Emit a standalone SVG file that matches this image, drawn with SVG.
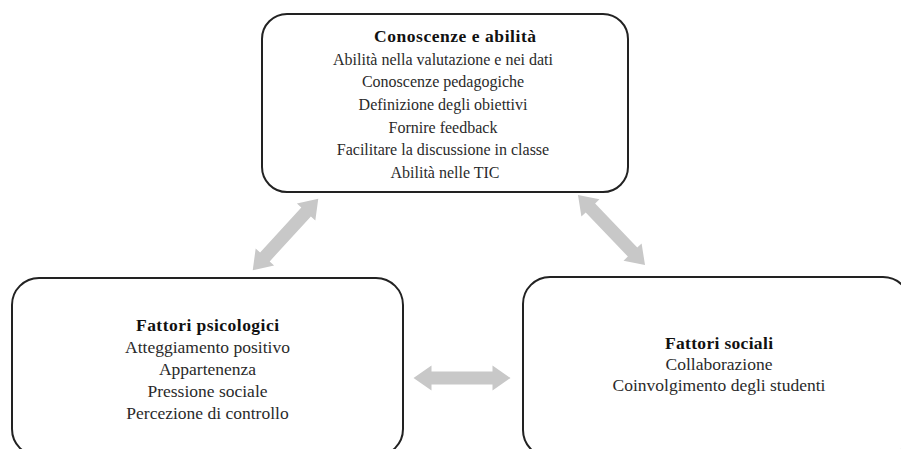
<svg xmlns="http://www.w3.org/2000/svg" width="901" height="449" viewBox="0 0 901 449">
<style>
.box{fill:#fff;stroke:#222;stroke-width:2}
.t{font-family:"Liberation Serif","Times New Roman",serif;font-size:17.5px;fill:#2a2a2a;text-anchor:middle}
.s{font-size:16px}
.b{font-weight:bold;fill:#111;font-size:17.5px}
.arrow{fill:#c8c8c8}
</style>
<defs>
<path id="dbl" d="M-48.5,0 L-30.5,-12.5 L-30.5,-6.5 L30.5,-6.5 L30.5,-12.5 L48.5,0 L30.5,12.5 L30.5,6.5 L-30.5,6.5 L-30.5,12.5 Z"/>
</defs>
<rect width="901" height="449" fill="#fff"/>
<g id="connectors">
<use href="#dbl" class="arrow" transform="translate(285.5,234.5) rotate(-47.5)"/>
<use href="#dbl" class="arrow" transform="translate(611.5,230) rotate(46.3)"/>
<use href="#dbl" class="arrow" transform="translate(462,378)"/>
</g>
<g id="node-conoscenze">
<rect class="box" x="262" y="14" width="366" height="178" rx="25"/>
<text class="t b" x="455" y="42" textLength="162">Conoscenze e abilità</text>
<text class="t s" x="443" y="64.7">Abilità nella valutazione e nei dati</text>
<text class="t s" x="443" y="87.3">Conoscenze pedagogiche</text>
<text class="t s" x="443" y="110">Definizione degli obiettivi</text>
<text class="t s" x="443" y="132.7">Fornire feedback</text>
<text class="t s" x="443" y="155.3">Facilitare la discussione in classe</text>
<text class="t s" x="445" y="178">Abilità nelle TIC</text>
</g>
<g id="node-psicologici">
<rect class="box" x="12" y="278" width="391" height="178" rx="27"/>
<text class="t b" x="207.5" y="331" textLength="143">Fattori psicologici</text>
<text class="t" x="207.5" y="353">Atteggiamento positivo</text>
<text class="t" x="207.5" y="375">Appartenenza</text>
<text class="t" x="207.5" y="397">Pressione sociale</text>
<text class="t" x="207.5" y="419">Percezione di controllo</text>
</g>
<g id="node-sociali">
<rect class="box" x="523" y="277" width="387" height="180" rx="27"/>
<text class="t b" x="719" y="349" textLength="108">Fattori sociali</text>
<text class="t" x="719" y="370">Collaborazione</text>
<text class="t" x="719" y="391">Coinvolgimento degli studenti</text>
</g>
</svg>
